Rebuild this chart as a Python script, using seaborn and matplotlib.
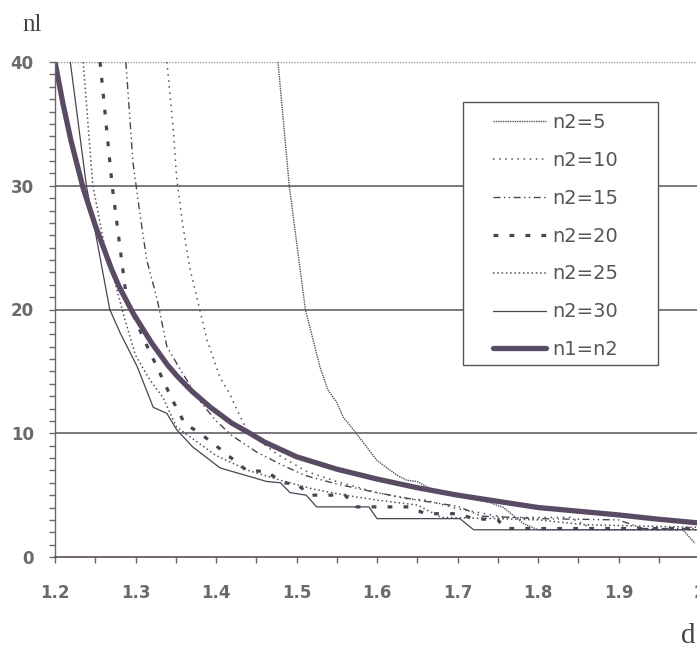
import numpy as np
import pandas as pd
import matplotlib
matplotlib.use("Agg")
import matplotlib.pyplot as plt
import seaborn as sns
from matplotlib.patches import Rectangle
from matplotlib.ticker import MultipleLocator

# ── data ────────────────────────────────────────────────────────────────────
D_5 = [1.477, 1.491, 1.511, 1.529, 1.539, 1.550, 1.558, 1.573, 1.600, 1.625,
       1.637, 1.650, 1.670, 1.707, 1.740, 1.757, 1.782, 1.800, 1.980, 1.995]
N_5 = [40, 30, 20, 15.4, 13.5, 12.5, 11.3, 10.1, 7.8, 6.6,
       6.2, 6.1, 5.4, 4.8, 4.4, 4.0, 2.7, 2.2, 2.2, 1.1]

D_10 = [1.339, 1.347, 1.351, 1.359, 1.368, 1.378, 1.389, 1.396, 1.405, 1.417,
        1.426, 1.438, 1.442, 1.476, 1.513, 1.550, 1.600, 1.637, 1.660, 1.700,
        1.760, 1.840, 1.870, 2.000]
N_10 = [40, 34.5, 30.7, 26.7, 23.2, 20.5, 17.5, 16.2, 14.5, 13.2,
        11.9, 10.3, 10.0, 8.3, 6.9, 6.1, 5.2, 4.7, 4.6, 3.9,
        3.2, 3.2, 2.2, 2.2]

D_15 = [1.288, 1.297, 1.306, 1.314, 1.327, 1.339, 1.357, 1.380, 1.400, 1.420,
        1.450, 1.480, 1.510, 1.550, 1.600, 1.650, 1.700, 1.730, 1.800, 1.900,
        1.930, 2.000]
N_15 = [40, 31.8, 27.5, 24, 20.8, 17, 15, 12.6, 11.0, 9.8,
        8.5, 7.5, 6.6, 5.9, 5.2, 4.6, 4.1, 3.3, 3.1, 3.0,
        2.3, 2.3]

D_20 = [1.256, 1.271, 1.289, 1.309, 1.330, 1.345, 1.361, 1.380, 1.399, 1.417,
        1.438, 1.463, 1.483, 1.500, 1.517, 1.560, 1.575, 1.640, 1.660, 1.700,
        1.720, 1.750, 1.760, 2.000]
N_20 = [40, 30, 20.8, 17.8, 14.9, 12.8, 10.8, 10.0, 9.05, 8.1,
        7.0, 6.9, 6.0, 5.9, 5.0, 5.0, 4.05, 4.05, 3.5, 3.5,
        3.1, 3.0, 2.3, 2.3]

D_25 = [1.235, 1.247, 1.262, 1.277, 1.285, 1.300, 1.318, 1.334, 1.351, 1.368,
        1.400, 1.440, 1.480, 1.520, 1.560, 1.600, 1.650, 1.680, 1.750, 1.800,
        1.860, 2.000]
N_25 = [40, 30, 25, 21.6, 19.6, 16.3, 14.3, 12.9, 10.5, 9.7,
        8.2, 7.0, 6.2, 5.5, 5.0, 4.6, 4.2, 3.2, 3.1, 3.0,
        2.6, 2.4]

D_30 = [1.219, 1.239, 1.252, 1.268, 1.281, 1.302, 1.322, 1.339, 1.351, 1.371,
        1.393, 1.405, 1.426, 1.442, 1.463, 1.480, 1.492, 1.512, 1.525, 1.590,
        1.600, 1.703, 1.720, 2.000]
N_30 = [40, 30, 25.6, 20, 18.1, 15.4, 12.1, 11.6, 10.3, 8.9,
        7.8, 7.2, 6.8, 6.5, 6.1, 6.0, 5.2, 5.0, 4.05, 4.05,
        3.1, 3.1, 2.2, 2.2]

D_EQ = [1.200, 1.210, 1.220, 1.235, 1.250, 1.270, 1.280, 1.297, 1.320, 1.340,
        1.352, 1.370, 1.393, 1.420, 1.442, 1.460, 1.500, 1.550, 1.600, 1.650,
        1.700, 1.750, 1.800, 1.850, 1.900, 1.950, 2.000]
N_EQ = [40, 36.6, 33.6, 29.8, 26.8, 23.3, 21.8, 19.7, 17.3, 15.5,
        14.6, 13.4, 12.1, 10.8, 10.0, 9.3, 8.1, 7.1, 6.3, 5.6,
        5.0, 4.5, 4.0, 3.7, 3.4, 3.05, 2.75]

SERIES = [
    ("n2=5",  D_5,  N_5),
    ("n2=10", D_10, N_10),
    ("n2=15", D_15, N_15),
    ("n2=20", D_20, N_20),
    ("n2=25", D_25, N_25),
    ("n2=30", D_30, N_30),
    ("n1=n2", D_EQ, N_EQ),
]

INK = "#4a4352"
STYLES = {
    "n2=5":  dict(ls=(0, (1, 0.7)),  lw=1.0, color="#55505a"),
    "n2=10": dict(ls=(0, (1, 3)),    lw=1.1, color="#55505a"),
    "n2=15": dict(ls=(0, (5, 2.5, 1, 2.5, 1, 2.5)), lw=1.0, color=INK),
    "n2=20": dict(ls=(0, (1.5, 3.5)), lw=2.3, color=INK),
    "n2=25": dict(ls=(0, (1, 1.8)),  lw=1.1, color="#55505a"),
    "n2=30": dict(ls="-",            lw=0.9, color=INK),
    "n1=n2": dict(ls="-",            lw=3.8, color="#594b63"),
}

sns.set_style("white")
plt.rcParams["font.family"] = ["DejaVu Sans"]

fig = plt.figure(figsize=(6.97, 6.49), dpi=100)
ax = fig.add_axes([55 / 697, 92 / 649, 644 / 697, 495 / 649])

for name, d, n in SERIES:
    st = STYLES[name]
    sns.lineplot(x=d, y=n, ax=ax, estimator=None, sort=False, label=name,
                 color=st["color"], linewidth=st["lw"], linestyle=st["ls"])

ax.set_xlim(1.2, 2.0)
ax.set_ylim(0, 40)

# gridlines at 10/20/30, faint dotted border at top
for yv in [10, 20, 30]:
    ax.axhline(yv, color="#57525d", lw=1.1, zorder=0)
ax.axhline(40, color="#9a969c", lw=1.0, ls=(0, (1, 1)), zorder=0)

for side in ["top", "right"]:
    ax.spines[side].set_visible(False)
ax.spines["left"].set_color("#6a646e")
ax.spines["bottom"].set_color("#5e4a58")
ax.spines["left"].set_linewidth(1.0)
ax.spines["bottom"].set_linewidth(1.2)

ax.xaxis.set_minor_locator(MultipleLocator(0.05))
ax.yaxis.set_major_locator(MultipleLocator(10))
ax.yaxis.set_minor_locator(MultipleLocator(1))
ax.set_xticks([1.2, 1.3, 1.4, 1.5, 1.6, 1.7, 1.8, 1.9, 2.0])
ax.set_xticklabels(["1.2", "1.3", "1.4", "1.5", "1.6", "1.7", "1.8", "1.9", "2"])
ax.tick_params(axis="both", which="both", direction="out", color="#6a646e",
               width=1.0, length=4.3, labelcolor="#6a6a6a", labelsize=12,
               bottom=True, left=True)
ax.tick_params(axis="x", which="major", pad=15)
ax.tick_params(axis="y", which="major", pad=11)
for lab in ax.get_xticklabels() + ax.get_yticklabels():
    lab.set_fontweight("bold")

fig.text(22 / 697, 1 - 25 / 649, "nl", family="Liberation Serif", fontsize=18,
         color="#444444", va="center", ha="left")
fig.text(681 / 697, 1 - 636 / 649, "d", family="Liberation Serif", fontsize=21,
         color="#444444", va="center", ha="left")

# legend box drawn separately so the side padding can be wider than the top
box = Rectangle((463 / 697, 1 - 365 / 649), 195 / 697, 263 / 649,
                transform=fig.transFigure, facecolor="white",
                edgecolor="#555555", linewidth=1.0, zorder=4, clip_on=False)
ax.add_patch(box)

leg = ax.legend(loc="upper left", bbox_to_anchor=(493 / 697, 1 - 113 / 649),
                bbox_transform=fig.transFigure, frameon=False,
                fontsize=14, handlelength=2.75, handletextpad=0.3,
                labelspacing=0.97, borderpad=0, borderaxespad=0)
leg.set_zorder(5)
for t in leg.get_texts():
    t.set_color("#555555")

fig.savefig("out.png", dpi=100)
